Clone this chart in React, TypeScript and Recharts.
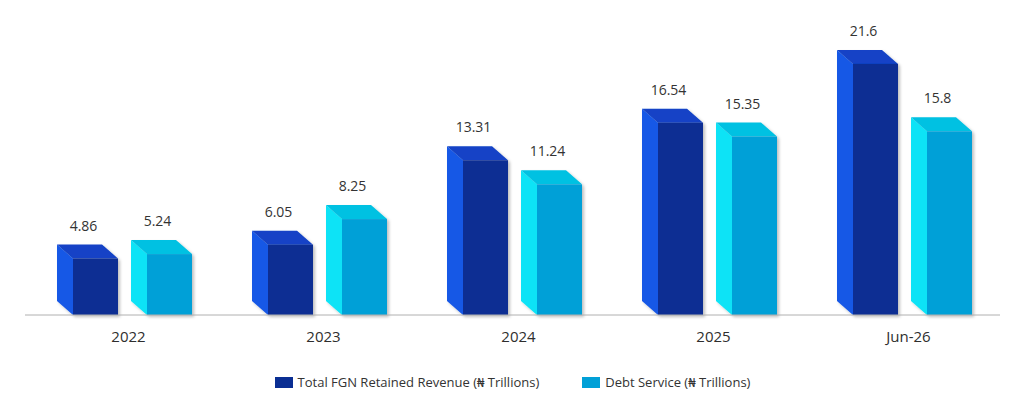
import React from 'react';
import { BarChart, Bar, XAxis, YAxis, Legend, LabelList } from 'recharts';

const categories = ['2022', '2023', '2024', '2025', 'Jun-26'];
const revenueValues = [4.86, 6.05, 13.31, 16.54, 21.6];
const debtValues = [5.24, 8.25, 11.24, 15.35, 15.8];
const seriesNames = ['Total FGN Retained Revenue (₦ Trillions)', 'Debt Service (₦ Trillions)'];

const data = categories.map((c, i) => ({ category: c, revenue: revenueValues[i], debt: debtValues[i] }));

const FONT = '"Open Sans", "Noto Sans", "DejaVu Sans", sans-serif';
const SHIFT = 10;
const DX = 16;
const DY = 14;

const palettes = {
  revenue: { front: '#0a2e93', side: '#1858e6', top: '#1243c6' },
  debt: { front: '#01a0d7', side: '#0ce3f6', top: '#03c1e2' },
};

type Pal = { front: string; side: string; top: string };

const makeShape = (pal: Pal) => (props: any) => {
  const { x, y, width, height } = props;
  if (x == null || y == null || !height) return <g />;
  const fx = x + SHIFT;
  const w = width;
  const h = height;
  const side = `${fx - DX},${y - DY} ${fx},${y} ${fx},${y + h} ${fx - DX},${y + h - DY}`;
  const top = `${fx - DX},${y - DY} ${fx - DX + w},${y - DY} ${fx + w},${y} ${fx},${y}`;
  return (
    <g filter="url(#barShadow)">
      <polygon points={side} fill={pal.side} />
      <polygon points={top} fill={pal.top} />
      <rect x={fx} y={y} width={w} height={h} fill={pal.front} />
    </g>
  );
};

const ValueLabel = (props: any) => {
  const { x, y, width, value } = props;
  return (
    <text
      x={x + SHIFT + width / 2 - 12}
      y={y - 28}
      textAnchor="middle"
      fontFamily={FONT}
      fontSize={14}
      fill="#333333"
    >
      {value}
    </text>
  );
};

const CategoryTick = (props: any) => {
  const { x, y, payload } = props;
  return (
    <text
      x={x + 6}
      y={y + 21}
      textAnchor="middle"
      dominantBaseline="central"
      fontFamily={FONT}
      fontSize={15}
      fill="#2e2e2e"
    >
      {payload.value}
    </text>
  );
};

const LegendContent = () => (
  <div
    style={{
      display: 'flex',
      justifyContent: 'center',
      alignItems: 'center',
      height: 20,
      fontFamily: FONT,
      fontSize: 13,
      color: '#333333',
    }}
  >
    {seriesNames.map((name, i) => (
      <div key={name} style={{ display: 'flex', alignItems: 'center', marginLeft: i === 0 ? 0 : 43 }}>
        <span
          style={{
            display: 'inline-block',
            width: 18,
            height: 11,
            background: i === 0 ? palettes.revenue.front : palettes.debt.front,
            marginRight: 5,
          }}
        />
        <span>{name}</span>
      </div>
    ))}
  </div>
);

export default function App() {
  return (
    <div style={{ width: 1008, height: 404 }}>
      <BarChart
        width={1008}
        height={404}
        data={data}
        margin={{ top: 28, right: 16, left: 17, bottom: 20 }}
        barSize={45}
        barGap={29}
      >
        <defs>
          <filter id="barShadow" x="-20%" y="-20%" width="150%" height="150%">
            <feDropShadow dx="2" dy="2" stdDeviation="1.5" floodColor="#000000" floodOpacity="0.25" />
          </filter>
        </defs>
        <YAxis hide domain={[0, 24]} />
        <XAxis
          dataKey="category"
          height={57}
          tickLine={false}
          tickSize={0}
          tickMargin={0}
          axisLine={{ stroke: '#b0b0b0', strokeWidth: 1 }}
          tick={<CategoryTick />}
          interval={0}
        />
        <Legend verticalAlign="bottom" height={20} content={<LegendContent />} />
        <Bar dataKey="revenue" name={seriesNames[0]} fill={palettes.revenue.front} shape={makeShape(palettes.revenue)} isAnimationActive={false}>
          <LabelList dataKey="revenue" content={<ValueLabel />} />
        </Bar>
        <Bar dataKey="debt" name={seriesNames[1]} fill={palettes.debt.front} shape={makeShape(palettes.debt)} isAnimationActive={false}>
          <LabelList dataKey="debt" content={<ValueLabel />} />
        </Bar>
      </BarChart>
    </div>
  );
}
